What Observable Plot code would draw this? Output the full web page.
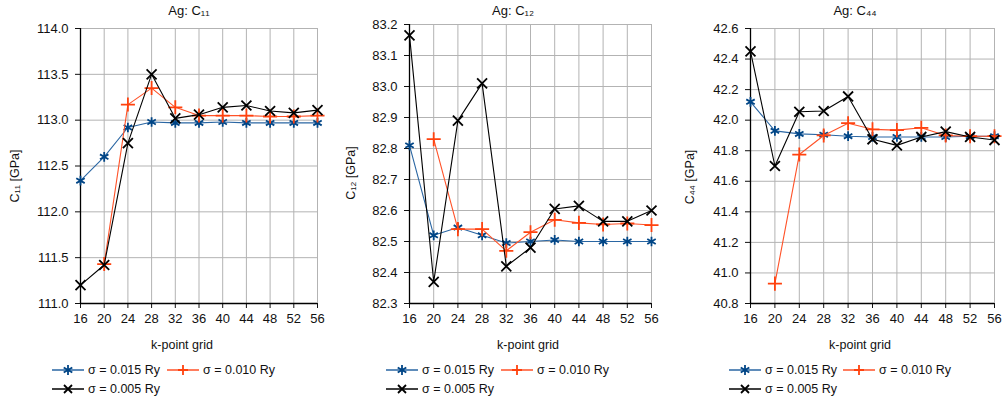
<!DOCTYPE html>
<html>
<head>
<meta charset="utf-8">
<script src="https://cdn.jsdelivr.net/npm/d3@7"></script>
<script src="https://cdn.jsdelivr.net/npm/@observablehq/plot@0.6"></script>
<style>
  body { margin: 0; background: #fff; font-family: "Liberation Sans", Arial, sans-serif; }
  #root { position: relative; width: 1008px; height: 400px; overflow: hidden; }
  .panel { position: absolute; top: 0; }
  .panel svg { overflow: visible; }
  .lbl { position: absolute; font-size: 12.5px; color: #111; white-space: nowrap; line-height: 14px; }
  .title { font-size: 13px; transform: translateX(-50%); }
  .xlab { transform: translateX(-50%); }
  .ylab { transform: translate(-50%, -50%) rotate(-90deg); }
  .leg { position: absolute; display: flex; align-items: center; font-size: 12.5px; color: #111; white-space: nowrap; }
  .leg svg { margin-right: 4px; }
</style>
</head>
<body>
<div id="root"></div>
<script>
// ---------- data ----------
const kgrid = [16, 20, 24, 28, 32, 36, 40, 44, 48, 52, 56];
const seriesNames = ["σ = 0.015 Ry", "σ = 0.010 Ry", "σ = 0.005 Ry"];

const c11_s015 = [112.34, 112.60, 112.92, 112.98, 112.97, 112.97, 112.98, 112.97, 112.97, 112.97, 112.97];
const c11_s010 = [null, 111.43, 113.17, 113.35, 113.14, 113.05, 113.05, 113.05, 113.04, 113.04, 113.05];
const c11_s005 = [111.20, 111.42, 112.75, 113.50, 113.02, 113.06, 113.14, 113.16, 113.10, 113.08, 113.11];

const c12_s015 = [82.81, 82.52, 82.545, 82.52, 82.495, 82.50, 82.505, 82.50, 82.50, 82.50, 82.50];
const c12_s010 = [null, 82.83, 82.54, 82.54, 82.47, 82.53, 82.57, 82.56, 82.555, 82.558, 82.553];
const c12_s005 = [83.165, 82.37, 82.89, 83.01, 82.42, 82.48, 82.605, 82.615, 82.565, 82.565, 82.60];

const c44_s015 = [42.12, 41.93, 41.91, 41.905, 41.895, 41.89, 41.89, 41.89, 41.89, 41.895, 41.895];
const c44_s010 = [null, 40.93, 41.775, 41.90, 41.98, 41.94, 41.935, 41.95, 41.90, 41.895, 41.895];
const c44_s005 = [42.45, 41.70, 42.055, 42.06, 42.155, 41.875, 41.835, 41.89, 41.925, 41.89, 41.87];

const c11_ticks = [111.0, 111.5, 112.0, 112.5, 113.0, 113.5, 114.0];
const c12_ticks = [82.3, 82.4, 82.5, 82.6, 82.7, 82.8, 82.9, 83.0, 83.1, 83.2];
const c44_ticks = [40.8, 41.0, 41.2, 41.4, 41.6, 41.8, 42.0, 42.2, 42.4, 42.6];

const titles = ["Ag: C₁₁", "Ag: C₁₂", "Ag: C₄₄"];
const yLabels = ["C₁₁ [GPa]", "C₁₂ [GPa]", "C₄₄ [GPa]"];
const xLabel = "k-point grid";

// ---------- styles ----------
const lineColors = ["#2a66a3", "#ff5228", "#000000"];
const markColors = ["#004586", "#ff420e", "#000000"];
const symbols = ["asterisk", "plus", "times"];

const panels = [
  {left: 0, mL: 80, mR: 19, mT: 28, series: [c11_s015, c11_s010, c11_s005], ticks: c11_ticks,
   title: titles[0], titleX: 189, ylab: yLabels[0], ylabX: 15, ylabY: 176, xlabX: 182,
   leg: [[52, 370], [167, 370], [52, 389]]},
  {left: 336, mL: 73, mR: 21, mT: 24, series: [c12_s015, c12_s010, c12_s005], ticks: c12_ticks,
   title: titles[1], titleX: 513, ylab: yLabels[1], ylabX: 351, ylabY: 173, xlabX: 528,
   leg: [[386, 370], [501, 370], [386, 389]]},
  {left: 672, mL: 78, mR: 14, mT: 28, series: [c44_s015, c44_s010, c44_s005], ticks: c44_ticks,
   title: titles[2], titleX: 855, ylab: yLabels[2], ylabX: 690, ylabY: 177, xlabX: 860,
   leg: [[729, 370], [843, 370], [729, 389]]}
];

const root = document.getElementById("root");
const W = 336, H = 400, mB = 97;

function addLabel(cls, text, x, y) {
  const d = document.createElement("div");
  d.className = "lbl " + cls;
  d.textContent = text;
  d.style.left = x + "px";
  d.style.top = y + "px";
  root.appendChild(d);
}

function swatch(i) {
  const ns = "http://www.w3.org/2000/svg";
  const s = document.createElementNS(ns, "svg");
  s.setAttribute("width", 32); s.setAttribute("height", 14);
  const l = document.createElementNS(ns, "line");
  l.setAttribute("x1", 0); l.setAttribute("x2", 32); l.setAttribute("y1", 7); l.setAttribute("y2", 7);
  l.setAttribute("stroke", lineColors[i]); l.setAttribute("stroke-width", 1.5);
  s.appendChild(l);
  const p = document.createElementNS(ns, "path");
  const c = 16, m = 7, r = 5;
  let d;
  if (symbols[i] === "plus") d = `M${c - r},${m}H${c + r}M${c},${m - r}V${m + r}`;
  else if (symbols[i] === "times") d = `M${c - 4},${m - 4}L${c + 4},${m + 4}M${c - 4},${m + 4}L${c + 4},${m - 4}`;
  else d = `M${c},${m - r}V${m + r}M${c - 4.3},${m - 2.5}L${c + 4.3},${m + 2.5}M${c - 4.3},${m + 2.5}L${c + 4.3},${m - 2.5}`;
  p.setAttribute("d", d);
  p.setAttribute("stroke", markColors[i]); p.setAttribute("stroke-width", 1.8); p.setAttribute("fill", "none");
  s.appendChild(p);
  return s;
}

panels.forEach((P) => {
  const rows = [];
  P.series.forEach((vals, si) => {
    vals.forEach((v, k) => rows.push({k: kgrid[k], v, s: si}));
  });
  const y0 = P.ticks[0], y1 = P.ticks[P.ticks.length - 1];
  const marks = [
    Plot.gridX(kgrid, {stroke: "#b3b3b3", strokeOpacity: 1, strokeWidth: 1}),
    Plot.gridY(P.ticks, {stroke: "#b3b3b3", strokeOpacity: 1, strokeWidth: 1}),
    Plot.axisX(kgrid, {tickSize: 5, tickPadding: 5, tickFormat: d => String(d), label: null, fontSize: 13}),
    Plot.axisY(P.ticks, {tickSize: 5, tickPadding: 7, tickFormat: d3.format(".1f"), label: null, fontSize: 13}),
    Plot.ruleX([16], {stroke: "#000", strokeWidth: 1.3}),
    Plot.ruleY([y0], {stroke: "#000", strokeWidth: 1.3})
  ];
  [0, 1, 2].forEach((si) => {
    const data = rows.filter(r => r.s === si);
    marks.push(Plot.line(data, {x: "k", y: "v", stroke: lineColors[si], strokeWidth: 1.1}));
    marks.push(Plot.dot(data.filter(r => r.v != null), {x: "k", y: "v", symbol: () => symbols[si], r: 4.6,
      stroke: markColors[si], strokeWidth: 1.8, fill: "none"}));
  });
  const chart = Plot.plot({
    width: W, height: H,
    marginLeft: P.mL, marginRight: P.mR, marginTop: P.mT, marginBottom: mB,
    style: {fontFamily: "Liberation Sans, Arial, sans-serif", fontSize: "13px", color: "#111", background: "transparent"},
    x: {type: "linear", domain: [16, 56]},
    y: {type: "linear", domain: [y0, y1]},
    symbol: {type: "identity"},
    marks
  });
  const div = document.createElement("div");
  div.className = "panel";
  div.style.left = P.left + "px";
  div.appendChild(chart);
  root.appendChild(div);

  addLabel("title", P.title, P.titleX, 4);
  addLabel("xlab", xLabel, P.xlabX, 338);
  addLabel("ylab", P.ylab, P.ylabX, P.ylabY);

  P.leg.forEach(([x, y], si) => {
    const g = document.createElement("div");
    g.className = "leg";
    g.style.left = x + "px";
    g.style.top = (y - 7) + "px";
    g.appendChild(swatch(si));
    const t = document.createElement("span");
    t.textContent = seriesNames[si];
    g.appendChild(t);
    root.appendChild(g);
  });
});
</script>
</body>
</html>
